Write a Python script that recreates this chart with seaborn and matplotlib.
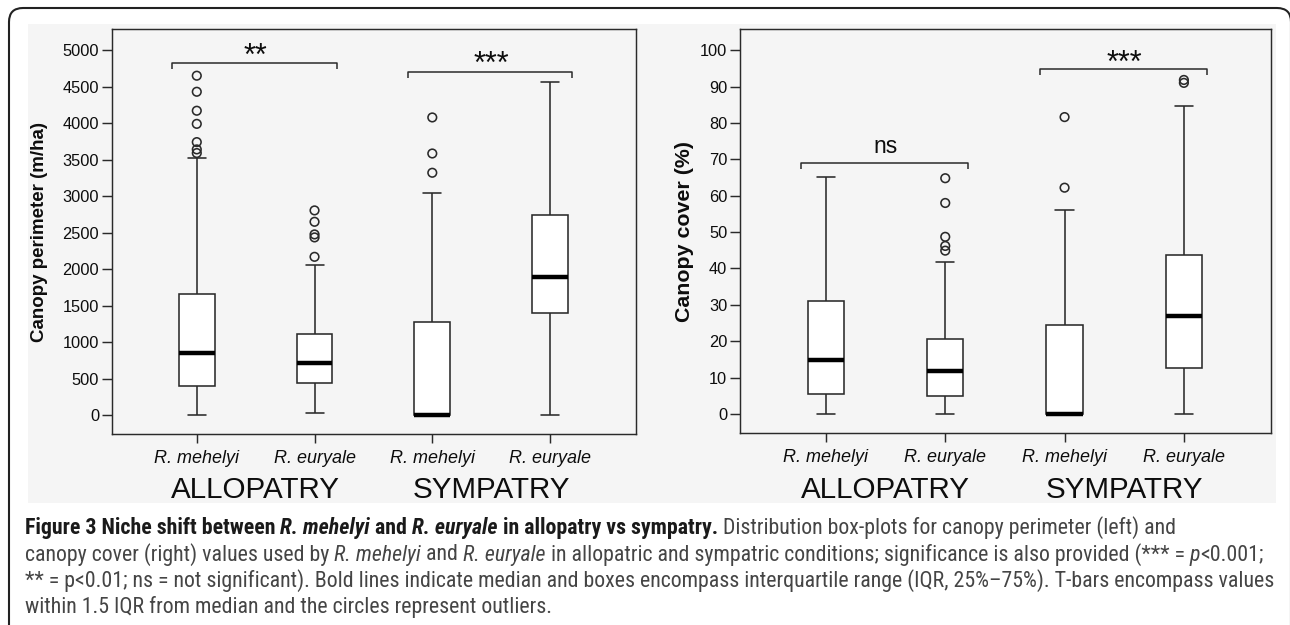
import matplotlib
matplotlib.use("Agg")
import matplotlib.pyplot as plt
from matplotlib import font_manager
from matplotlib.font_manager import FontProperties
from matplotlib.patches import FancyBboxPatch, Rectangle
from matplotlib.transforms import IdentityTransform, blended_transform_factory
import pandas as pd
import seaborn as sns

# ---------------- data ----------------
group_keys = ["allo_meh", "allo_eur", "sym_meh", "sym_eur"]
species_labels = ["R. mehelyi", "R. euryale", "R. mehelyi", "R. euryale"]
condition_labels = ["ALLOPATRY", "SYMPATRY"]

# five-number summaries: [lower whisker, Q1, median, Q3, upper whisker]
perim_allo_meh = [0, 397, 845, 1658, 3525]
perim_allo_eur = [32, 434, 708, 1114, 2055]
perim_sym_meh = [0, 0, 0, 1279, 3037]
perim_sym_eur = [0, 1402, 1886, 2735, 4566]

perim_out_allo_meh = [4650, 4430, 4170, 3990, 3740, 3640, 3590]
perim_out_allo_eur = [2804, 2648, 2475, 2434, 2168]
perim_out_sym_meh = [4078, 3584, 3320]
perim_out_sym_eur = []

cover_allo_meh = [0, 5.6, 14.9, 31.1, 65.1]
cover_allo_eur = [0, 4.9, 11.7, 20.6, 41.8]
cover_sym_meh = [0, 0, 0, 24.5, 56.0]
cover_sym_eur = [0, 12.7, 27.0, 43.6, 84.6]

cover_out_allo_meh = []
cover_out_allo_eur = [64.8, 58.0, 48.7, 46.2, 44.9]
cover_out_sym_meh = [81.6, 62.2]
cover_out_sym_eur = [91.8, 91.0]

perim_ticks = [0, 500, 1000, 1500, 2000, 2500, 3000, 3500, 4000, 4500, 5000]
cover_ticks = [0, 10, 20, 30, 40, 50, 60, 70, 80, 90, 100]

perim_sig_labels = ["**", "***"]
perim_sig_levels = [4818, 4703]
cover_sig_labels = ["ns", "***"]
cover_sig_levels = [68.9, 94.7]

perim_ylabel = "Canopy perimeter (m/ha)"
cover_ylabel = "Canopy cover (%)"

caption_lines = [
    [("Figure 3 Niche shift between ", "bold", "normal"),
     ("R. mehelyi", "bold", "italic"),
     (" and ", "bold", "normal"),
     ("R. euryale", "bold", "italic"),
     (" in allopatry vs sympatry.", "bold", "normal"),
     (" Distribution box-plots for canopy perimeter (left) and", "normal", "normal")],
    [("canopy cover (right) values used by ", "normal", "normal"),
     ("R. mehelyi", "normal", "italic"),
     (" and ", "normal", "normal"),
     ("R. euryale", "normal", "italic"),
     (" in allopatric and sympatric conditions; significance is also provided (*** = ", "normal", "normal"),
     ("p", "normal", "italic"),
     ("<0.001;", "normal", "normal")],
    [("** = p<0.01; ns = not significant). Bold lines indicate median and boxes encompass "
      "interquartile range (IQR, 25%\u201375%). T-bars encompass values", "normal", "normal")],
    [("within 1.5 IQR from median and the circles represent outliers.", "normal", "normal")],
]

# ---------------- style ----------------
sns.set_theme(style="ticks")
plt.rcParams["font.family"] = ["Liberation Sans", "DejaVu Sans"]

W, H = 1290, 625
LINE = "#2a2a2a"
BG = "#f5f5f5"
TXT = "#0d0d0d"

fig = plt.figure(figsize=(W / 100, H / 100), dpi=100)
fig.patch.set_facecolor("white")


def px_rect(x0, top, x1, bottom):
    return [x0 / W, 1 - bottom / H, (x1 - x0) / W, (bottom - top) / H]


# light grey image background and outer rounded frame
fig.add_artist(Rectangle((28, H - 503), 1276 - 28, 503 - 24, transform=IdentityTransform(),
                         facecolor=BG, edgecolor="none", zorder=0))
fig.add_artist(FancyBboxPatch((9, -30), 1291 - 9, (H - 8) + 30,
                              boxstyle="round,pad=0,rounding_size=14",
                              transform=IdentityTransform(), fill=False,
                              edgecolor="#222222", linewidth=1.5, zorder=1))

axL = fig.add_axes(px_rect(112, 29, 636, 434))
axR = fig.add_axes(px_rect(740, 29, 1271, 433))


def draw_panel(ax, summaries, outliers, ylim, yticks, ylabel, ylabel_size, label_x,
               sig_labels, sig_levels, sig_sizes, sig_offsets_px):
    ax.set_facecolor("none")
    rows = [(g, v) for g, vals in zip(group_keys, summaries) for v in vals]
    df = pd.DataFrame(rows, columns=["group", "value"])
    sns.boxplot(data=df, x="group", y="value", order=group_keys, whis=(0, 100),
                width=0.305, color="white", saturation=1, linecolor=LINE, linewidth=1.15,
                medianprops=dict(color="black", linewidth=3.2, solid_capstyle="butt"),
                ax=ax)
    orows = [(g, v) for g, vals in zip(group_keys, outliers) for v in vals]
    dfo = pd.DataFrame(orows, columns=["group", "value"])
    sns.stripplot(data=dfo, x="group", y="value", order=group_keys, jitter=False,
                  size=6.2, marker="o", color="white", edgecolor=LINE, linewidth=1.15,
                  ax=ax, zorder=4)
    for coll in ax.collections:
        coll.set_facecolor("none")
        coll.set_edgecolor(LINE)
        coll.set_linewidth(1.15)

    ax.set_xlim(-0.72, 3.73)
    ax.set_ylim(*ylim)
    ax.set_yticks(yticks)
    ax.set_yticklabels([str(t) for t in yticks])
    ax.set_xticks(range(len(group_keys)))
    ax.set_xticklabels(species_labels, fontstyle="italic", fontsize=13, color=TXT)
    ax.set_xlabel("")
    ax.set_ylabel(ylabel, fontsize=ylabel_size, fontweight="bold", color=TXT)
    ax.yaxis.set_label_coords(label_x, 0.5)
    ax.yaxis.label.set_verticalalignment("center")
    for sp in ax.spines.values():
        sp.set_visible(True)
        sp.set_color(LINE)
        sp.set_linewidth(1.05)
    ax.tick_params(axis="y", length=7.2, width=1.05, pad=2, labelsize=11.8,
                   color=LINE, labelcolor=TXT)
    ax.tick_params(axis="x", length=6.5, width=1.05, pad=5, color=LINE)

    # px -> data conversion for this axes
    ax_h_px = ax.get_position().height * H
    upp = (ylim[1] - ylim[0]) / ax_h_px

    # condition labels under the species names
    tr = blended_transform_factory(ax.transData, fig.transFigure)
    for (i, j), lab in zip([(0, 1), (2, 3)], condition_labels):
        ax.text((i + j) / 2, 1 - 498 / H, lab, transform=tr, ha="center", va="baseline",
                fontsize=21.3, color=TXT, clip_on=False)

    # significance brackets
    for (i, j), lab, lvl, fs, off in zip([(0, 1), (2, 3)], sig_labels, sig_levels,
                                         sig_sizes, sig_offsets_px):
        x0, x1 = i - 0.21, j + 0.19
        drop = 6 * upp
        ax.plot([x0, x0, x1, x1], [lvl - drop, lvl, lvl, lvl - drop], color=LINE,
                linewidth=1.1, clip_on=False, solid_capstyle="butt")
        ax.text((i + j) / 2, lvl + off * upp, lab, ha="center", va="baseline",
                fontsize=fs, color=TXT)


draw_panel(axL,
           [perim_allo_meh, perim_allo_eur, perim_sym_meh, perim_sym_eur],
           [perim_out_allo_meh, perim_out_allo_eur, perim_out_sym_meh, perim_out_sym_eur],
           (-260, 5290), perim_ticks, perim_ylabel, 13.5, -0.139,
           perim_sig_labels, perim_sig_levels, [22, 22], [-1, -1.5])

draw_panel(axR,
           [cover_allo_meh, cover_allo_eur, cover_sym_meh, cover_sym_eur],
           [cover_out_allo_meh, cover_out_allo_eur, cover_out_sym_meh, cover_out_sym_eur],
           (-5.2, 105.8), cover_ticks, cover_ylabel, 15.4, -0.1036,
           cover_sig_labels, cover_sig_levels, [16.5, 22], [10.5, -3])

# ---------------- caption ----------------
names = {f.name for f in font_manager.fontManager.ttflist}
cap_family = "DejaVu Sans"
for cand in ["Roboto Condensed", "Liberation Sans Narrow", "Open Sans Condensed", "Lato", "Open Sans"]:
    if cand in names:
        cap_family = cand
        break

renderer = fig.canvas.get_renderer()
probe = fig.text(0, 0, caption_lines[2][0][0], fontproperties=FontProperties(family=cap_family, size=12),
                 transform=IdentityTransform())
w_probe = probe.get_window_extent(renderer).width
probe.remove()
cap_size = 12 * (1273 - 25) / w_probe

baselines = [534, 560.5, 587, 613.5]
for line, base in zip(caption_lines, baselines):
    x = 25
    for text, weight, style in line:
        col = "#1a1a1a" if weight == "bold" else "#454545"
        t = fig.text(x, H - base, text, transform=IdentityTransform(), ha="left", va="baseline",
                     fontproperties=FontProperties(family=cap_family, size=cap_size,
                                                   weight=weight, style=style),
                     color=col)
        x = t.get_window_extent(renderer).x1

fig.savefig("out.png", dpi=100, facecolor="white")
